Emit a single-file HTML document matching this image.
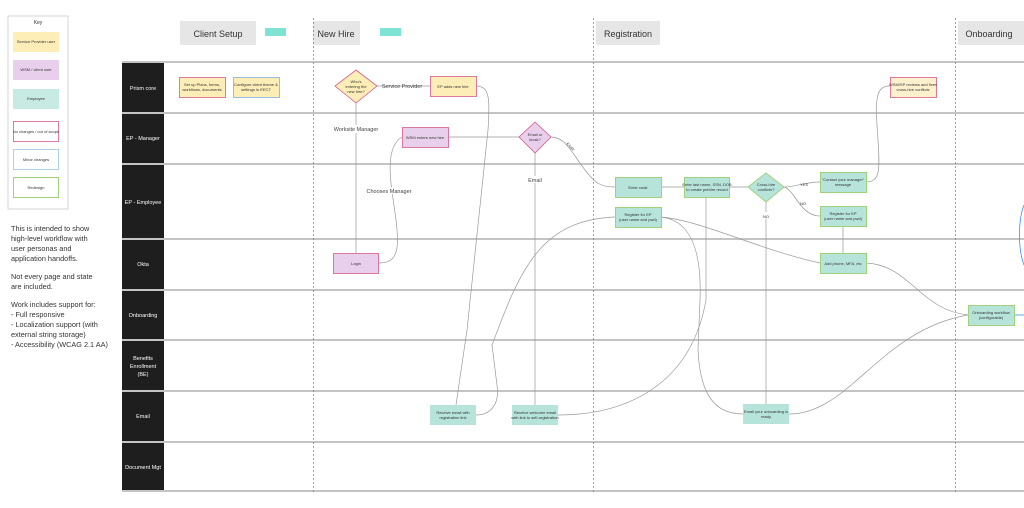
<!DOCTYPE html>
<html><head><meta charset="utf-8"><style>
html,body{margin:0;padding:0;background:#fff;width:1024px;height:508px;overflow:hidden}
svg{display:block}
text{font-family:"Liberation Sans",sans-serif;fill:#333}
text.w{fill:#fff;font-size:5.5px;text-anchor:middle}
.s{font-size:4px;text-anchor:middle}
.l{font-size:5.5px;fill:#444;text-anchor:middle}
.c{fill:none;stroke:#999;stroke-width:0.7}
</style></head><body>
<svg width="1024" height="508" viewBox="0 0 1024 508">
<!-- Key -->
<rect x="8" y="16" width="60" height="193" fill="#fff" stroke="#ccc" stroke-width="0.8"/>
<text x="38" y="24" class="s" style="font-size:5px">Key</text>
<rect x="13" y="32" width="46" height="20" fill="#fdedb7"/><text x="36" y="43" class="s">Service Provider user</text>
<rect x="13" y="60" width="46" height="20" fill="#e8cfec"/><text x="36" y="71" class="s">WSM / client user</text>
<rect x="13" y="89" width="46" height="20" fill="#c7ebe3"/><text x="36" y="100" class="s">Employee</text>
<rect x="13.5" y="121.5" width="45" height="20" fill="#fff" stroke="#d65b8c" stroke-width="0.8"/><text x="36" y="133" class="s">No changes / out of scope</text>
<rect x="13.5" y="149.5" width="45" height="20" fill="#fff" stroke="#9cc6ea" stroke-width="0.8"/><text x="36" y="161" class="s">Minor changes</text>
<rect x="13.5" y="177.5" width="45" height="20" fill="#fff" stroke="#9fd27a" stroke-width="1"/><text x="36" y="189" class="s">Redesign</text>
<g style="font-size:7.3px">
<text x="11" y="231">This is intended to show</text>
<text x="11" y="241">high-level workflow with</text>
<text x="11" y="251">user personas and</text>
<text x="11" y="261">application handoffs.</text>
<text x="11" y="279">Not every page and state</text>
<text x="11" y="289">are included.</text>
<text x="11" y="307">Work includes support for:</text>
<text x="11" y="317">- Full responsive</text>
<text x="11" y="327">- Localization support (with</text>
<text x="11" y="337">external string storage)</text>
<text x="11" y="347">- Accessibility (WCAG 2.1 AA)</text>
</g>
<!-- headers -->
<rect x="180" y="21" width="76" height="24" fill="#e6e6e6"/><text x="218" y="37" style="font-size:9px;text-anchor:middle">Client Setup</text>
<rect x="265" y="28" width="21" height="8" fill="#7fe3d4"/>
<rect x="313" y="21" width="47" height="24" fill="#e6e6e6"/><text x="336" y="37" style="font-size:9px;text-anchor:middle">New Hire</text>
<rect x="380" y="28" width="21" height="8" fill="#7fe3d4"/>
<rect x="596" y="21" width="64" height="24" fill="#e6e6e6"/><text x="628" y="37" style="font-size:9px;text-anchor:middle">Registration</text>
<rect x="958" y="21" width="66" height="24" fill="#e6e6e6"/><text x="989" y="37" style="font-size:9px;text-anchor:middle">Onboarding</text>
<!-- lanes -->
<g fill="#c4c4c4">
<rect x="122" y="61" width="902" height="2"/><rect x="122" y="112" width="902" height="2"/>
<rect x="122" y="163" width="902" height="2"/><rect x="122" y="238" width="902" height="2"/>
<rect x="122" y="289" width="902" height="2"/><rect x="122" y="339" width="902" height="2"/>
<rect x="122" y="390" width="902" height="2"/><rect x="122" y="441" width="902" height="2"/>
<rect x="122" y="490" width="902" height="2"/>
</g>
<g fill="#1e1e1e">
<rect x="122" y="63" width="42" height="49"/><rect x="122" y="114" width="42" height="49"/>
<rect x="122" y="165" width="42" height="73"/><rect x="122" y="240" width="42" height="49"/>
<rect x="122" y="291" width="42" height="48"/><rect x="122" y="341" width="42" height="49"/>
<rect x="122" y="392" width="42" height="49"/><rect x="122" y="443" width="42" height="47"/>
</g>
<text x="143" y="90" class="w">Prism core</text>
<text x="143" y="140" class="w">EP - Manager</text>
<text x="143" y="204" class="w">EP - Employee</text>
<text x="143" y="266" class="w">Okta</text>
<text x="143" y="317" class="w">Onboarding</text>
<text x="143" y="360" class="w">Benefits</text><text x="143" y="368" class="w">Enrollment</text><text x="143" y="376" class="w">(BE)</text>
<text x="143" y="418" class="w">Email</text>
<text x="143" y="469" class="w">Document Mgt</text>
<g stroke="#777" stroke-width="0.7" stroke-dasharray="2,2">
<line x1="313.5" y1="18" x2="313.5" y2="492"/><line x1="593.5" y1="18" x2="593.5" y2="492"/><line x1="955.5" y1="18" x2="955.5" y2="492"/>
</g>
<!-- connectors -->
<path class="c" d="M377 86H430"/>
<path class="c" d="M356 103V253"/>
<path class="c" d="M476 86C490 86 490 100 488 130L467 330 456 405"/>
<path class="c" d="M378 263C390 263 400 260 397 230 395 200 380 150 402 137"/>
<path class="c" d="M448 137H519"/>
<path class="c" d="M551 137C565 137 570 150 585 170 595 183 600 187 615 187"/>
<path class="c" d="M535 153V405"/>
<path class="c" d="M476 415C490 415 500 405 497 385L492 345C520 270 540 220 615 217"/>
<path class="c" d="M558 415C620 415 690 390 706 300V197"/>
<path class="c" d="M661 187H684"/>
<path class="c" d="M729 187H748"/>
<path class="c" d="M784 187C795 187 805 182 820 182"/>
<path class="c" d="M784 187C795 190 800 216 820 216"/>
<path class="c" d="M866 182C880 182 880 170 878 140 875 100 875 86 890 86"/>
<path class="c" d="M843 226V253"/>
<path class="c" d="M661 217C700 220 760 250 820 263"/>
<path class="c" d="M661 217C690 220 702 250 700 300L698 350C700 395 715 414 743 414"/>
<path class="c" d="M766 202V404"/>
<path class="c" d="M866 263C910 265 920 310 968 315"/>
<path class="c" d="M789 414C850 414 880 330 968 315"/>
<path d="M1014 315H1024" stroke="#3d8fe0" stroke-width="0.8"/>
<path d="M1024 205C1018 220 1018 250 1024 265" fill="none" stroke="#3d8fe0" stroke-width="0.8"/>
<!-- nodes -->
<rect x="179.5" y="77.5" width="46" height="20" fill="#fdedb7" stroke="#d65b8c" stroke-width="0.8"/>
<text x="202" y="86" class="s">Set up Plans, forms,</text><text x="202" y="91" class="s">workflows, documents</text>
<rect x="233.5" y="77.5" width="46" height="20" fill="#fdedb7" stroke="#7fb0e0" stroke-width="0.8"/>
<text x="256" y="86" class="s">Configure client theme &amp;</text><text x="256" y="91" class="s">settings in EECT</text>
<polygon points="356,70 377,86 356,103 335,86" fill="#fdedb7" stroke="#d65b8c" stroke-width="0.8"/>
<text x="356" y="83" class="s">Who's</text><text x="356" y="88" class="s">entering the</text><text x="356" y="93" class="s">new hire?</text>
<text x="402" y="88" class="l">Service Provider</text>
<rect x="430.5" y="76.5" width="46" height="20" fill="#fdedb7" stroke="#d65b8c" stroke-width="0.8"/>
<text x="453" y="88" class="s">EP adds new hire</text>
<rect x="337" y="125" width="38" height="8" fill="#fff"/>
<text x="356" y="131" class="l">Worksite Manager</text>
<rect x="402.5" y="127.5" width="46" height="20" fill="#e8cfec" stroke="#d65b8c" stroke-width="0.8"/>
<text x="425" y="139" class="s">WSM enters new hire</text>
<polygon points="535,122 551,137 535,153 519,137" fill="#e8cfec" stroke="#d65b8c" stroke-width="0.8"/>
<text x="535" y="136" class="s">Email or</text><text x="535" y="141" class="s">kiosk?</text>
<text x="571" y="148" class="s" transform="rotate(45 571 146)">Kiosk</text>
<rect x="527" y="176" width="16" height="7" fill="#fff"/><text x="535" y="182" class="l">Email</text>
<rect x="370" y="187" width="39" height="7" fill="#fff"/><text x="389" y="193" class="l">Chooses Manager</text>
<rect x="333.5" y="253.5" width="45" height="20" fill="#e8cfec" stroke="#d65b8c" stroke-width="0.8"/>
<text x="356" y="265" class="s">Login</text>
<g fill="#b6e4da" stroke="#9fd27a" stroke-width="1">
<rect x="615.5" y="177.5" width="46" height="20"/><rect x="615.5" y="207.5" width="46" height="20"/>
<rect x="684.5" y="177.5" width="45" height="20"/><rect x="820.5" y="172.5" width="46" height="20"/>
<rect x="820.5" y="206.5" width="46" height="20"/><rect x="820.5" y="253.5" width="46" height="20"/>
<rect x="968.5" y="305.5" width="46" height="20"/>
<polygon points="766,173 784,187 766,202 748,187"/>
</g>
<text x="638" y="189" class="s">Enter code</text>
<text x="638" y="216" class="s">Register for EP</text><text x="638" y="221" class="s">(user name and pwd)</text>
<text x="707" y="186" class="s">Enter last name, SSN, DOB</text><text x="707" y="191" class="s">to create prehire record</text>
<text x="766" y="186" class="s">Cross-hire</text><text x="766" y="191" class="s">conflicts?</text>
<text x="804" y="186" class="s">YES</text><text x="803" y="205" class="s">NO</text>
<rect x="760" y="212" width="12" height="7" fill="#fff"/><text x="766" y="218" class="s">NO</text>
<text x="843" y="181" class="s">"Contact your manager"</text><text x="843" y="186" class="s">message</text>
<text x="843" y="215" class="s">Register for EP</text><text x="843" y="220" class="s">(user name and pwd)</text>
<text x="843" y="265" class="s">Add phone, MFA, etc</text>
<text x="991" y="314" class="s">Onboarding workflow</text><text x="991" y="319" class="s">(configurable)</text>
<rect x="890.5" y="77.5" width="46" height="20" fill="#fdf0cd" stroke="#d65b8c" stroke-width="0.8"/>
<text x="913" y="86" class="s">WSM/SP reviews and fixes</text><text x="913" y="91" class="s">cross-hire conflicts</text>
<g fill="#b6e4da">
<rect x="430" y="405" width="46" height="20"/><rect x="512" y="405" width="46" height="20"/><rect x="743" y="404" width="46" height="20"/>
</g>
<text x="453" y="414" class="s">Receive email with</text><text x="453" y="419" class="s">registration link</text>
<text x="535" y="414" class="s">Receive welcome email</text><text x="535" y="419" class="s">with link to self-registration</text>
<text x="766" y="413" class="s">Email your onboarding is</text><text x="766" y="418" class="s">ready</text>
</svg>
</body></html>
